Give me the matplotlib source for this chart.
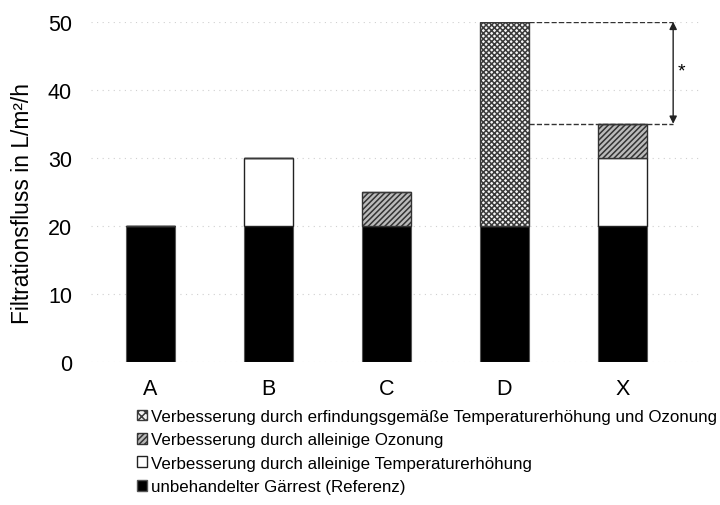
import matplotlib
matplotlib.use("Agg")
import matplotlib.pyplot as plt
from matplotlib.patches import Patch
import numpy as np

plt.rcParams['font.family'] = ['Liberation Sans', 'DejaVu Sans']
plt.rcParams['hatch.linewidth'] = 1.1

# data
categories = ["A", "B", "C", "D", "X"]
referenz = [20, 20, 20, 20, 20]          # unbehandelter Gärrest
temperatur = [0, 10, 0, 0, 10]           # alleinige Temperaturerhöhung
ozonung = [0, 0, 5, 0, 5]                # alleinige Ozonung
kombiniert = [0, 0, 0, 30, 0]            # erfindungsgemäß kombiniert
yticks = [0, 10, 20, 30, 40, 50]

labels = ["Verbesserung durch erfindungsgemäße Temperaturerhöhung und Ozonung",
          "Verbesserung durch alleinige Ozonung",
          "Verbesserung durch alleinige Temperaturerhöhung",
          "unbehandelter Gärrest (Referenz)"]

fig = plt.figure(figsize=(7.2, 5.06), dpi=100)
ax = fig.add_axes([0.127, 0.283, 0.844, 0.672])

x = np.arange(len(categories))
w = 0.415
ref = np.array(referenz)
temp = np.array(temperatur)
oz = np.array(ozonung)
komb = np.array(kombiniert)

ax.bar(x, ref, w, color="black", edgecolor="#555555", linewidth=0.8, zorder=3)
ax.bar(x, temp, w, bottom=ref, color="white", edgecolor="#222222", linewidth=1.0, zorder=3)
ax.bar(x, oz, w, bottom=ref + temp, color="#bbbbbb", edgecolor="#333333",
       hatch="//////", linewidth=1.0, zorder=3)
ax.bar(x, komb, w, bottom=ref + temp + oz, color="#f4f4f4", edgecolor="#3a3a3a",
       hatch="xxxxxx", linewidth=1.0, zorder=3)

# significance annotation between D and X
top_d = (ref + temp + oz + komb)[3]
top_x = (ref + temp + oz + komb)[4]
x_arrow = 4.43
ax.plot([3 + w / 2, x_arrow], [top_d, top_d], ls="--", color="#333333", lw=1.0, zorder=4)
ax.plot([3 + w / 2, x_arrow], [top_x, top_x], ls="--", color="#333333", lw=1.0, zorder=4)
ax.annotate("", xy=(x_arrow, top_d), xytext=(x_arrow, top_x),
            arrowprops=dict(arrowstyle="<|-|>", color="#222222", lw=1.0,
                            mutation_scale=11, shrinkA=0, shrinkB=0))
ax.text(x_arrow + 0.07, (top_d + top_x) / 2 + 0.3, "*", fontsize=14, ha="center", va="center")

ax.set_xlim(-0.5, 4.65)
ax.set_ylim(0, 50)
ax.set_yticks(yticks)
ax.set_xticks(x)
ax.set_xticklabels(categories)
ax.tick_params(axis="both", length=0, labelsize=15.5)
ax.tick_params(axis="y", pad=14)
ax.tick_params(axis="x", pad=12)
ax.yaxis.grid(True, color="#d0d0d0", ls=(0, (1, 4)), lw=0.8, zorder=0)
for s in ax.spines.values():
    s.set_visible(False)
ax.set_ylabel("Filtrationsfluss in L/m²/h", fontsize=16.4)
ax.yaxis.set_label_coords(-0.095, 0.468)

handles = [Patch(facecolor="#f4f4f4", edgecolor="#3a3a3a", hatch="xxxx"),
           Patch(facecolor="#bbbbbb", edgecolor="#333333", hatch="//////"),
           Patch(facecolor="white", edgecolor="#222222"),
           Patch(facecolor="black", edgecolor="#555555")]
fig.legend(handles, labels, loc="upper left", bbox_to_anchor=(0.19, 0.19),
           frameon=False, fontsize=12.2, handlelength=0.6, handleheight=0.6,
           handletextpad=0.25, labelspacing=0.5, borderaxespad=0, borderpad=0)

fig.savefig("out.png", dpi=100)
